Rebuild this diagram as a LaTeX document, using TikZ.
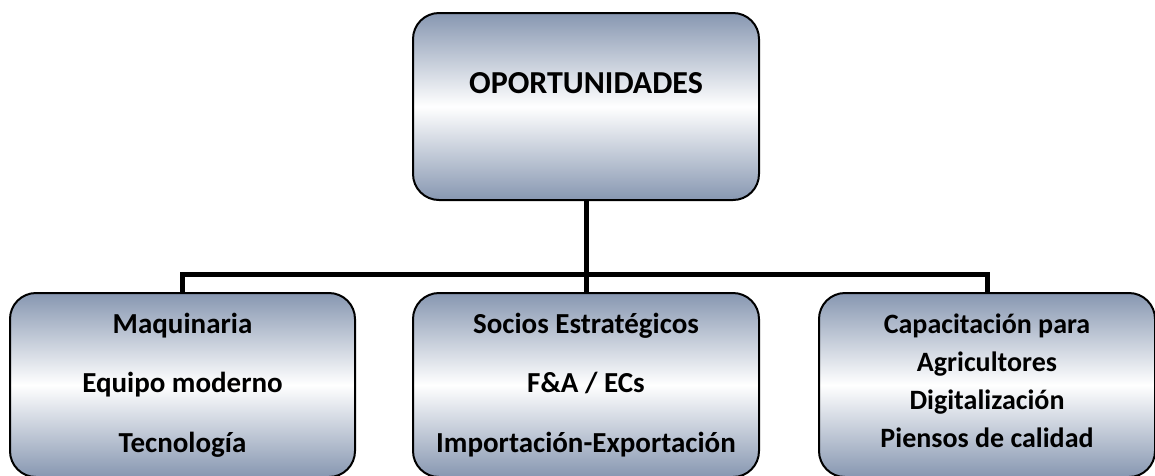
\documentclass[tikz,border=0pt]{standalone}
\usepackage{fontspec}
\setmainfont{Carlito}
\usetikzlibrary{backgrounds}
\definecolor{slate}{HTML}{8797B1}
\begin{document}
\begin{tikzpicture}[x=1pt,y=-1pt,
  box/.style={draw=black,line width=2pt,rounded corners=26pt,
    top color=slate,bottom color=slate,middle color=white,
    align=center,inner sep=0pt},
  headfont/.style={font=\bfseries\fontsize{32pt}{38pt}\selectfont},
  wide/.style={font=\bfseries\fontsize{29pt}{59.5pt}\selectfont},
  tight/.style={font=\bfseries\fontsize{28pt}{38pt}\selectfont},
  conn/.style={line width=5pt,draw=black}]
\useasboundingbox (0,0) rectangle (1155,475);
\coordinate (j) at (586,274);
\node[box,headfont,minimum width=346pt,minimum height=187pt] (top) at (586,106.5)
  {\raisebox{47pt}{OPORTUNIDADES}};
\node[box,wide,minimum width=345pt,minimum height=184pt] (left) at (182.5,385)
  {Maquinaria\\Equipo moderno\\Tecnología};
\node[box,wide,minimum width=346pt,minimum height=184pt] (mid) at (586,385)
  {Socios Estratégicos\\F\&A / ECs\\Importación-Exportación};
\node[box,tight,minimum width=336pt,minimum height=184pt] (right) at (987,385)
  {Capacitación para\\Agricultores\\Digitalización\\Piensos de calidad\\[-30pt]};
\begin{scope}[on background layer]
  \draw[conn] (top.south) -- (mid.north);
  \draw[conn] (left.north) |- (j) -| (right.north);
\end{scope}
\end{tikzpicture}
\end{document}
